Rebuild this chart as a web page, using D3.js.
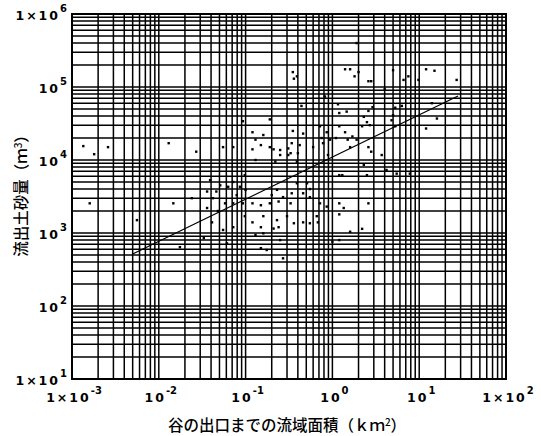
<!DOCTYPE html>
<html>
<head>
<meta charset="utf-8">
<script src="https://cdn.jsdelivr.net/npm/d3@7"></script>
<style>
body { margin: 0; background: #fff; }
svg { display: block; }
</style>
</head>
<body>
<script>
var w = 541;
var h = 436;

// catchment area (km2) and sediment volume (m3)
var area = [
    1.9, 0.35, 0.39, 0.36, 1.4, 1.6, 1.8, 2.0, 2.6, 2.8,
    5.0, 6.6, 7.5, 9.8, 12, 15, 27, 4.0, 0.82, 0.44,
    1.16, 1.46, 1.2, 2.9, 2.6, 5.3, 5.0, 6.3, 14, 0.19,
    0.12, 0.16, 0.13, 0.35, 0.46, 0.72, 0.86, 0.75, 0.94, 1.2,
    1.4, 1.1, 1.5, 2.3, 2.5, 2.2, 2.7, 1.7, 1.9, 4.8,
    5.3, 12, 16, 0.15, 0.19, 0.34, 0.42, 0.6, 0.78, 1.6,
    2.6, 0.055, 0.072, 0.093, 0.12, 0.21, 0.25, 0.31, 0.33, 0.25,
    0.027, 0.00135, 0.0018, 0.0026, 0.013, 0.13, 0.31, 0.40, 0.22, 0.39,
    0.89, 1.2, 1.3, 2.3, 2.5, 2.8, 3.7, 4.2, 5.5, 7.8,
    0.098, 0.072, 0.063, 0.039, 0.051, 0.036, 0.046, 0.086, 0.10, 0.079,
    0.23, 0.20, 0.27, 0.39, 0.51, 0.55, 0.34, 0.46, 0.55, 0.042,
    0.058, 0.072, 0.093, 0.12, 0.15, 0.19, 0.24, 0.33, 0.72, 0.86,
    1.2, 1.35, 2.6, 0.036, 0.048, 0.041, 0.055, 0.072, 0.098, 0.12,
    0.16, 0.23, 0.15, 0.21, 0.24, 0.30, 0.36, 0.46, 0.55, 0.66,
    0.68, 1.2, 0.033, 0.061, 0.13, 0.16, 0.25, 1.6, 2.2, 0.15,
    0.175, 0.27, 1.0, 1.2, 0.0016, 0.0147, 0.024, 0.0056, 0.0175
];
var volume = [
    400000, 160000, 140000, 130000, 175000, 175000, 140000, 160000, 120000, 120000,
    170000, 125000, 140000, 125000, 175000, 167000, 125000, 93000, 74000, 55000,
    58000, 46000, 44000, 53000, 47000, 52000, 41000, 55000, 60000, 36000,
    24000, 22000, 19000, 25000, 23000, 29000, 24000, 20000, 19000, 29000,
    24000, 20000, 19000, 39000, 33000, 29000, 30000, 21000, 19000, 35000,
    29000, 27000, 37000, 16000, 15000, 17000, 16000, 15000, 17000, 15000,
    15000, 15000, 15000, 34000, 14000, 14000, 13700, 14400, 12400, 11700,
    13000, 15500, 12000, 15000, 17000, 10000, 11700, 12400, 9500, 9500,
    11700, 6200, 6200, 8600, 6200, 13000, 11700, 7300, 6500, 6500,
    6200, 5000, 4300, 5300, 4500, 3700, 3700, 4300, 3900, 3300,
    3900, 3300, 3100, 4800, 4800, 4000, 3500, 3500, 3100, 3000,
    2550, 2550, 2550, 2550, 2400, 2550, 2700, 2550, 2550, 2300,
    2550, 2200, 2550, 2200, 2000, 1400, 1100, 1200, 1700, 1400,
    1700, 1500, 1200, 1150, 1200, 1700, 1360, 1400, 1360, 1700,
    1400, 1800, 850, 720, 940, 990, 800, 1040, 1140, 620,
    585, 450, 760, 800, 2550, 2550, 3000, 1500, 640
];

// regression line end points
var fitArea = [0.005, 28];
var fitVolume = [515, 75300];

var xTicks = [1e-3, 1e-2, 1e-1, 1, 10, 100];
var xTickBase = ['1×10', '10', '10', '10', '10', '1×10'];
var xTickExp = ['-3', '-2', '-1', '0', '1', '2'];
var yTicks = [1e1, 1e2, 1e3, 1e4, 1e5, 1e6];
var yTickBase = ['1×10', '10', '10', '10', '10', '1×10'];
var yTickExp = ['1', '2', '3', '4', '5', '6'];

var margin = {left: 72, right: 35, top: 14, bottom: 57};

var x = d3.scaleLog().domain([1e-3, 1e2]).range([margin.left, w - margin.right]);
var y = d3.scaleLog().domain([1e1, 1e6]).range([h - margin.bottom, margin.top]);

var svg = d3.select('body').append('svg')
    .attr('width', w).attr('height', h);

// grid: 1..9 in every decade
var gridX = [], gridY = [];
for (var e = -3; e < 2; e++) {
    for (var m = 1; m < 10; m++) gridX.push(m * Math.pow(10, e));
}
gridX.push(100);
for (var e2 = 1; e2 < 6; e2++) {
    for (var m2 = 1; m2 < 10; m2++) gridY.push(m2 * Math.pow(10, e2));
}
gridY.push(1e6);

var grid = svg.append('g').attr('stroke', '#000').attr('stroke-width', 1.5);
grid.selectAll('line.vx').data(gridX).enter().append('line')
    .attr('class', 'vx')
    .attr('x1', function(d) { return x(d); })
    .attr('x2', function(d) { return x(d); })
    .attr('y1', y(1e1)).attr('y2', y(1e6));
grid.selectAll('line.hy').data(gridY).enter().append('line')
    .attr('class', 'hy')
    .attr('y1', function(d) { return y(d); })
    .attr('y2', function(d) { return y(d); })
    .attr('x1', x(1e-3)).attr('x2', x(1e2));

svg.append('rect')
    .attr('x', x(1e-3)).attr('y', y(1e6))
    .attr('width', x(1e2) - x(1e-3)).attr('height', y(1e1) - y(1e6))
    .attr('fill', 'none').attr('stroke', '#000').attr('stroke-width', 2);

// regression line
svg.append('path')
    .datum(d3.zip(fitArea, fitVolume))
    .attr('fill', 'none').attr('stroke', '#000').attr('stroke-width', 1.3)
    .attr('d', d3.line()
        .x(function(d) { return x(d[0]); })
        .y(function(d) { return y(d[1]); }));

// data points
svg.append('g').selectAll('rect')
    .data(d3.zip(area, volume)).enter()
    .append('rect')
    .attr('x', function(d) { return x(d[0]) - 1.2; })
    .attr('y', function(d) { return y(d[1]) - 1.2; })
    .attr('width', 2.4).attr('height', 2.4)
    .attr('fill', '#000');

// tick labels
function tickStyle(sel) {
    sel.attr('font-family', 'DejaVu Sans, sans-serif')
        .attr('font-size', '12.5px')
        .attr('font-weight', 'bold')
        .attr('letter-spacing', '2px')
        .attr('fill', '#000');
}

var xl = svg.append('g').selectAll('text')
    .data(xTicks).enter().append('text')
    .attr('x', function(d) { return x(d) + 2; })
    .attr('y', 402)
    .attr('text-anchor', 'middle')
    .call(tickStyle);
xl.append('tspan').text(function(d, i) { return xTickBase[i]; });
xl.append('tspan').attr('dy', -8).attr('font-size', '10px').attr('letter-spacing', '0px')
    .text(function(d, i) { return xTickExp[i]; });

var yl = svg.append('g').selectAll('text')
    .data(yTicks).enter().append('text')
    .attr('x', 67)
    .attr('y', function(d) { return y(d) + 6; })
    .attr('text-anchor', 'end')
    .call(tickStyle);
yl.append('tspan').text(function(d, i) { return yTickBase[i]; });
yl.append('tspan').attr('dy', -8).attr('font-size', '10px').attr('letter-spacing', '0px')
    .text(function(d, i) { return yTickExp[i]; });

// axis titles
svg.append('text')
    .attr('x', 287).attr('y', 431)
    .attr('text-anchor', 'middle')
    .attr('font-family', 'Noto Sans CJK JP, sans-serif')
    .attr('font-size', '15.5px')
    .attr('font-weight', 500)
    .attr('fill', '#000')
    .html('谷の出口までの流域面積（ｋｍ<tspan dy="-5" font-size="10px">2</tspan><tspan dy="5">）</tspan>');

svg.append('text')
    .attr('transform', 'translate(27,192) rotate(-90)')
    .attr('text-anchor', 'middle')
    .attr('font-family', 'Noto Sans CJK JP, sans-serif')
    .attr('font-size', '15.5px')
    .attr('font-weight', 500)
    .attr('fill', '#000')
    .html('流出土砂量（ｍ<tspan dy="-5" font-size="10px">3</tspan><tspan dy="5">）</tspan>');
</script>
</body>
</html>
